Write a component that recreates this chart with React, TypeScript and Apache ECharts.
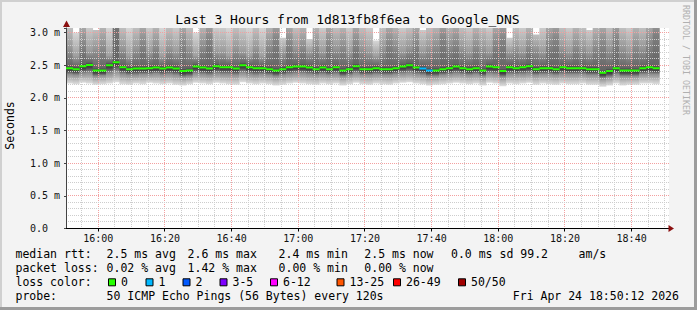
import React, { useEffect, useRef } from "react";
import * as echarts from "echarts";

// ---- data ----
// one column per 120 s sample, starting 15:50:19
const medianMs = [
  2.455, 2.44, 2.485, 2.505, 2.42, 2.42, 2.5, 2.545, 2.47, 2.44,
  2.45, 2.45, 2.455, 2.465, 2.45, 2.465, 2.45, 2.41, 2.42, 2.48,
  2.465, 2.45, 2.485, 2.47, 2.47, 2.45, 2.5, 2.47, 2.455, 2.455,
  2.44, 2.42, 2.44, 2.47, 2.48, 2.48, 2.465, 2.44, 2.465, 2.44,
  2.47, 2.42, 2.44, 2.485, 2.44, 2.44, 2.455, 2.44, 2.44, 2.455,
  2.48, 2.5, 2.465, 2.45, 2.42, 2.42, 2.44, 2.455, 2.48, 2.455,
  2.44, 2.455, 2.42, 2.48, 2.47, 2.41, 2.47, 2.455, 2.47, 2.485,
  2.44, 2.455, 2.455, 2.44, 2.47, 2.455, 2.455, 2.455, 2.44, 2.44,
  2.385, 2.41, 2.455, 2.42, 2.42, 2.42, 2.455, 2.47, 2.455,
];
const lossCount = [
  0, 0, 0, 0, 0, 0, 0, 0, 0, 0,
  0, 0, 0, 0, 0, 0, 0, 0, 0, 0,
  0, 0, 0, 0, 0, 0, 0, 0, 0, 0,
  0, 0, 0, 0, 0, 0, 0, 0, 0, 0,
  0, 0, 0, 0, 0, 0, 0, 0, 0, 0,
  0, 0, 0, 1, 1, 0, 0, 0, 0, 0,
  0, 0, 0, 0, 0, 0, 0, 0, 0, 0,
  0, 0, 0, 0, 0, 0, 0, 0, 0, 0,
  0, 0, 0, 0, 0, 0, 0, 0, 0,
];
const smokeTop = [
  3.07, 3.0, 3.07, 3.07, 3.04, 3.07, 3.07, 3.07, 3.07, 3.07,
  3.07, 3.07, 3.07, 3.07, 3.07, 3.07, 3.07, 3.07, 3.07, 3.0,
  3.07, 3.07, 3.07, 3.07, 3.07, 3.07, 3.07, 3.07, 3.07, 3.07,
  3.07, 3.07, 2.92, 3.07, 3.07, 3.07, 2.9, 3.07, 3.07, 3.07,
  3.07, 3.07, 3.07, 3.07, 3.07, 3.07, 2.88, 3.07, 3.07, 3.07,
  3.07, 3.07, 3.07, 3.04, 3.07, 3.07, 3.07, 3.07, 3.07, 3.07,
  3.07, 3.07, 3.07, 3.07, 3.07, 3.07, 2.92, 3.07, 3.07, 3.07,
  2.97, 3.07, 3.07, 3.07, 3.07, 3.07, 3.07, 3.07, 3.04, 3.07,
  3.07, 3.07, 3.07, 3.07, 3.07, 3.07, 3.07, 3.07, 3.07,
];
const smokeQ3 = [
  2.75, 2.65, 2.85, 2.7, 2.75, 2.8, 2.65, 3.05, 2.75, 2.65,
  2.75, 2.85, 2.7, 2.8, 2.65, 2.75, 2.7, 2.85, 2.75, 2.65,
  2.8, 2.9, 2.7, 2.7, 2.65, 2.75, 2.7, 2.65, 2.75, 2.65,
  2.8, 2.9, 2.7, 2.85, 2.75, 2.8, 2.7, 2.8, 2.7, 2.85,
  2.75, 2.8, 2.7, 2.85, 2.75, 2.7, 2.65, 2.75, 2.85, 2.8,
  2.7, 2.75, 2.85, 2.7, 2.75, 2.8, 2.9, 2.8, 2.85, 2.75,
  2.7, 2.8, 2.75, 2.7, 2.85, 2.9, 2.7, 2.75, 2.7, 2.8,
  2.75, 2.7, 2.85, 2.9, 2.75, 2.7, 2.8, 2.75, 2.7, 2.8,
  2.85, 2.75, 2.9, 2.75, 2.7, 2.8, 2.75, 2.85, 2.95,
];
const smokeQ1 = [
  2.36, 2.35, 2.37, 2.38, 2.33, 2.34, 2.37, 2.4, 2.36, 2.35,
  2.35, 2.36, 2.36, 2.37, 2.35, 2.36, 2.35, 2.32, 2.33, 2.37,
  2.36, 2.35, 2.37, 2.36, 2.36, 2.35, 2.38, 2.36, 2.35, 2.36,
  2.35, 2.33, 2.35, 2.36, 2.37, 2.37, 2.36, 2.35, 2.36, 2.35,
  2.36, 2.33, 2.35, 2.37, 2.35, 2.35, 2.36, 2.35, 2.35, 2.36,
  2.37, 2.38, 2.36, 2.35, 2.33, 2.33, 2.35, 2.36, 2.37, 2.36,
  2.35, 2.36, 2.33, 2.37, 2.36, 2.32, 2.36, 2.36, 2.36, 2.37,
  2.35, 2.36, 2.36, 2.35, 2.36, 2.36, 2.36, 2.36, 2.35, 2.35,
  2.3, 2.32, 2.36, 2.33, 2.33, 2.33, 2.36, 2.36, 2.36,
];
const smokeBottom = [
  2.22, 2.21, 2.23, 2.22, 2.2, 2.21, 2.22, 2.24, 2.21, 2.2,
  2.22, 2.21, 2.23, 2.22, 2.21, 2.22, 2.2, 2.19, 2.21, 2.23,
  2.22, 2.21, 2.23, 2.22, 2.21, 2.2, 2.24, 2.22, 2.21, 2.22,
  2.21, 2.19, 2.2, 2.22, 2.23, 2.22, 2.21, 2.2, 2.22, 2.21,
  2.22, 2.19, 2.21, 2.23, 2.21, 2.2, 2.22, 2.21, 2.2, 2.22,
  2.23, 2.24, 2.22, 2.21, 2.19, 2.2, 2.21, 2.22, 2.23, 2.22,
  2.21, 2.22, 2.19, 2.23, 2.22, 2.18, 2.22, 2.21, 2.22, 2.23,
  2.2, 2.22, 2.21, 2.2, 2.22, 2.21, 2.21, 2.22, 2.2, 2.2,
  2.17, 2.19, 2.22, 2.19, 2.2, 2.2, 2.22, 2.22, 2.21,
];

const xTickLabels = ["16:00", "16:20", "16:40", "17:00", "17:20", "17:40", "18:00", "18:20", "18:40"];

const lossLabels = ["0", "1", "2", "3-5", "6-12", "13-25", "26-49", "50/50"];
const lossMax = [0, 1, 2, 5, 12, 25, 49, 50];
const lossColors = ["#26ff00", "#00b8ff", "#0059ff", "#7e00ff", "#ff00ff", "#ff5500", "#ff0000", "#a10000"];

const rttStats = ["2.5 ms avg", "2.6 ms max", "2.4 ms min", "2.5 ms now", "0.0 ms sd", "99.2", "am/s"];
const lossStats = ["0.02 % avg", "1.42 % max", "0.00 % min", "0.00 % now"];
const probeText = "50 ICMP Echo Pings (56 Bytes) every 120s";
const stampText = "Fri Apr 24 18:50:12 2026";
const titleText = "Last 3 Hours from 1d813fb8f6ea to Google_DNS";

const firstSample = new Date(2026, 3, 24, 15, 50, 19).getTime();
const stepMs = 120 * 1000;
const axisMin = firstSample;
const axisMax = firstSample + 180.9 * 60 * 1000;
const yMax = 3.07;

// ---- layout ----
const FONT = "'DejaVu Sans Mono', monospace";
const statX = [106.6, 187.6, 278.6, 364.3, 451, 520.3, 578.6];
const boxX = [108, 145.5, 182.5, 219.5, 270, 336.5, 393, 458];
const rowY = [254.3, 268.3, 282.3, 296];

function lossColor(n: number) {
  for (let i = 0; i < lossMax.length; i++) if (n <= lossMax[i]) return lossColors[i];
  return lossColors[lossColors.length - 1];
}
const gray = (l: number) => {
  const v = Math.max(0, Math.min(255, Math.round(l)));
  return "rgb(" + v + "," + v + "," + v + ")";
};
const timeOf = (hhmm: string) => {
  const [h, m] = hhmm.split(":").map(Number);
  return new Date(2026, 3, 24, h, m, 0).getTime();
};

export default function App() {
  const ref = useRef<HTMLDivElement>(null);
  useEffect(() => {
    if (!ref.current) return;
    const chart = echarts.init(ref.current, undefined, { renderer: "svg" });

    const smokeData = medianMs.map((m, i) => [
      firstSample + i * stepMs,
      firstSample + (i + 1) * stepMs,
      smokeBottom[i],
      smokeQ1[i],
      m,
      smokeQ3[i],
      smokeTop[i],
    ]);
    const medianData = medianMs.map((m, i) => [firstSample + i * stepMs, firstSample + (i + 1) * stepMs, m, lossCount[i]]);
    const labelData = xTickLabels.map((s) => [timeOf(s), s]);

    const vGrid: number[][] = [];
    const g0 = new Date(2026, 3, 24, 15, 55, 0).getTime();
    for (let t = g0; t <= axisMax; t += 5 * 60000) {
      const d = new Date(t);
      vGrid.push([t, d.getMinutes() % 20 === 0 ? 1 : 0]);
    }
    const hGrid: number[][] = [];
    for (let i = 1; i <= 30; i++) hGrid.push([i / 10, i % 5 === 0 ? 1 : 0]);

    const MAJOR = "#f3a0a0";
    const MINOR = "#cdcdcd";

    const graphic: any[] = [
      { type: "rect", shape: { x: 0, y: 0, width: 2, height: 310 }, style: { fill: "#d0d0d0" }, silent: true },
      { type: "rect", shape: { x: 0, y: 0, width: 697, height: 2 }, style: { fill: "#d0d0d0" }, silent: true },
      { type: "rect", shape: { x: 694, y: 0, width: 3, height: 310 }, style: { fill: "#9c9c9c" }, silent: true },
      { type: "rect", shape: { x: 0, y: 307, width: 697, height: 3 }, style: { fill: "#9c9c9c" }, silent: true },
      {
        type: "text", x: 347.5, y: 19,
        style: { text: titleText, fontFamily: FONT, fontSize: 13, fill: "#000", align: "center", verticalAlign: "middle" },
      },
      {
        type: "text", x: 10, y: 125.5, rotation: Math.PI / 2,
        style: { text: "Seconds", fontFamily: FONT, fontSize: 11.5, fill: "#000", align: "center", verticalAlign: "middle" },
      },
      {
        type: "text", x: 686, y: 60, rotation: -Math.PI / 2,
        style: { text: "RRDTOOL / TOBI OETIKER", fontFamily: FONT, fontSize: 8.3, fill: "#b0b0b0", align: "center", verticalAlign: "middle" },
      },
      { type: "polygon", shape: { points: [[63, 27], [70, 27], [66.5, 20.5]] }, style: { fill: "#8b1010" }, z: 100 },
      { type: "polygon", shape: { points: [[668.5, 225], [668.5, 232], [674, 228.5]] }, style: { fill: "#8b1010" }, z: 100 },
    ];
    const txt = (s: string, x: number, y: number) => ({
      type: "text", x, y,
      style: { text: s, fontFamily: FONT, fontSize: 11.5, fill: "#000", align: "left", verticalAlign: "middle" },
    });
    graphic.push(txt("median rtt:", 15.5, rowY[0]));
    rttStats.forEach((s, i) => graphic.push(txt(s, statX[i], rowY[0])));
    graphic.push(txt("packet loss:", 15.5, rowY[1]));
    lossStats.forEach((s, i) => graphic.push(txt(s, statX[i], rowY[1])));
    graphic.push(txt("loss color:", 15.5, rowY[2]));
    lossLabels.forEach((s, i) => {
      graphic.push({
        type: "rect",
        shape: { x: boxX[i] + 0.5, y: rowY[2] - 3.5, width: 7, height: 7 },
        style: { fill: lossColors[i], stroke: "#000", lineWidth: 1 },
      });
      graphic.push(txt(s, boxX[i] + 13, rowY[2]));
    });
    graphic.push(txt("probe:", 15.5, rowY[3]));
    graphic.push(txt(probeText, statX[0], rowY[3]));
    graphic.push(txt(stampText, 512.8, rowY[3]));

    chart.setOption({
      animation: false,
      backgroundColor: "#f3f3f3",
      grid: { left: 66, right: 28, top: 28, bottom: 81.5, show: true, backgroundColor: "#ffffff", borderWidth: 0 },
      xAxis: {
        type: "time",
        min: axisMin,
        max: axisMax,
        z: 4,
        axisLine: { show: true, lineStyle: { color: "#000", width: 1 } },
        axisTick: { show: false },
        splitLine: { show: false },
        axisLabel: { show: false },
      },
      yAxis: {
        type: "value",
        min: 0,
        max: yMax,
        interval: 0.5,
        z: 4,
        axisLine: { show: true, lineStyle: { color: "#444", width: 1 } },
        axisTick: { show: true, length: 2, lineStyle: { color: "#444" } },
        splitLine: { show: false },
        axisLabel: {
          fontFamily: FONT,
          fontSize: 10,
          color: "#111",
          align: "left",
          margin: 36,
          formatter: (v: number) => (v > 3.001 ? "" : v === 0 ? "0.0" : v.toFixed(1) + " m"),
        },
      },
      graphic,
      series: [
        {
          type: "custom",
          name: "smoke",
          z: 1,
          clip: true,
          encode: { x: [0, 1], y: [2, 6] },
          data: smokeData,
          renderItem: (_p: any, api: any) => {
            const t0 = api.value(0);
            const t1 = api.value(1);
            const bottom = api.value(2);
            const q1 = api.value(3);
            const med = api.value(4);
            const q3 = api.value(5);
            const top = api.value(6);
            const x0 = api.coord([t0, 0])[0];
            const x1 = api.coord([t1, 0])[0];
            const yy = (v: number) => api.coord([t0, v])[1];
            const yT = yy(top);
            const yB = yy(bottom);
            const h = yB - yT;
            const off = (v: number) => Math.min(1, Math.max(0, (yy(v) - yT) / h));
            const s = Math.max(0, Math.min(1, (q3 - 2.65) / 0.4));
            return {
              type: "rect",
              shape: { x: x0, y: yT, width: x1 - x0 + 0.4, height: h },
              style: {
                fill: new echarts.graphic.LinearGradient(0, 0, 0, 1, [
                  { offset: 0, color: gray(215 - 95 * s) },
                  { offset: off(q3), color: gray(160 - 45 * s) },
                  { offset: off(med + 0.04), color: gray(100) },
                  { offset: off(med), color: gray(55) },
                  { offset: off(med - 0.04), color: gray(70) },
                  { offset: off(q1), color: gray(145) },
                  { offset: 1, color: gray(222) },
                ]),
              },
            };
          },
        },
        {
          type: "custom",
          name: "vgrid",
          z: 3,
          silent: true,
          encode: { x: 0 },
          data: vGrid,
          renderItem: (_p: any, api: any) => {
            const t = api.value(0);
            const major = api.value(1) === 1;
            const x = Math.floor(api.coord([t, 0])[0]) + 0.5;
            const yT = api.coord([t, yMax])[1];
            const yB = api.coord([t, 0])[1];
            return {
              type: "line",
              shape: { x1: x, y1: yT, x2: x, y2: yB },
              style: { stroke: major ? MAJOR : MINOR, lineWidth: 1, lineDash: [1, 1] },
            };
          },
        },
        {
          type: "custom",
          name: "hgrid",
          z: 3,
          silent: true,
          encode: { y: 0 },
          data: hGrid,
          renderItem: (_p: any, api: any) => {
            const v = api.value(0);
            const major = api.value(1) === 1;
            const y = Math.floor(api.coord([axisMin, v])[1]) + 0.5;
            const xL = api.coord([axisMin, v])[0];
            const xR = api.coord([axisMax, v])[0];
            return {
              type: "line",
              shape: { x1: xL, y1: y, x2: xR, y2: y },
              style: { stroke: major ? MAJOR : MINOR, lineWidth: 1, lineDash: [1, 1] },
            };
          },
        },
        {
          type: "custom",
          name: "xlabels",
          z: 6,
          clip: false,
          silent: true,
          encode: { x: 0 },
          data: labelData,
          renderItem: (_p: any, api: any) => {
            const t = api.value(0);
            const idx = _p.dataIndex;
            const p = api.coord([t, 0]);
            const x = Math.floor(p[0]) + 0.5;
            return {
              type: "group",
              children: [
                { type: "line", shape: { x1: x, y1: p[1], x2: x, y2: p[1] + 3 }, style: { stroke: "#000", lineWidth: 1 } },
                {
                  type: "text",
                  x: p[0],
                  y: p[1] + 10,
                  style: { text: xTickLabels[idx], fontFamily: FONT, fontSize: 10, fill: "#111", align: "center", verticalAlign: "middle" },
                },
              ],
            };
          },
        },
        {
          type: "custom",
          name: "median",
          z: 5,
          clip: true,
          encode: { x: [0, 1], y: 2 },
          data: medianData,
          renderItem: (_p: any, api: any) => {
            const t0 = api.value(0);
            const t1 = api.value(1);
            const m = api.value(2);
            const loss = api.value(3);
            const x0 = api.coord([t0, m])[0];
            const x1 = api.coord([t1, m])[0];
            const y = api.coord([t0, m])[1];
            return {
              type: "rect",
              shape: { x: x0, y: y - 1, width: x1 - x0 + 0.3, height: 2 },
              style: { fill: lossColor(loss) },
            };
          },
        },
      ],
    });
    return () => chart.dispose();
  }, []);

  return (
    <div style={{ position: "fixed", left: 0, top: 0, width: 697, height: 310, background: "#f3f3f3" }}>
      <div ref={ref} style={{ width: 697, height: 310 }} />
    </div>
  );
}
